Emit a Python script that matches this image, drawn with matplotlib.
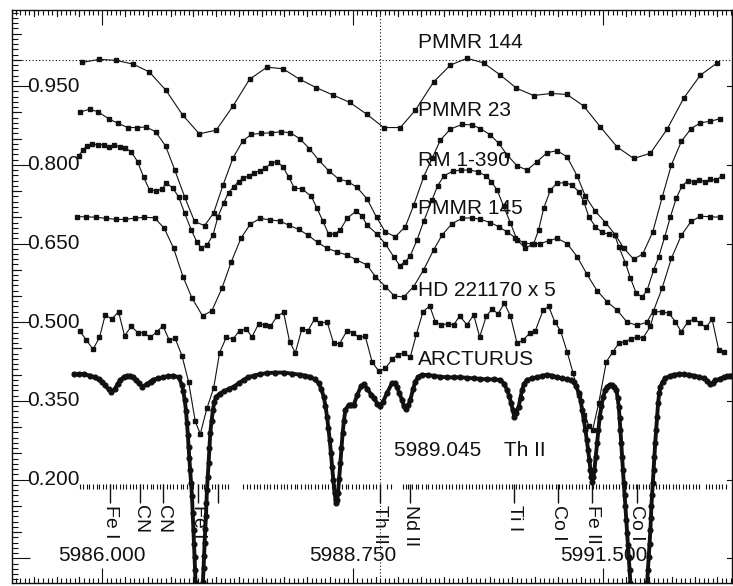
import matplotlib
matplotlib.use("Agg")
import matplotlib.pyplot as plt
import matplotlib.transforms as mtransforms
from matplotlib.ticker import FixedLocator, MultipleLocator
import numpy as np

plt.rcParams['font.family'] = ['Liberation Sans', 'DejaVu Sans']

# ---- spectra (wavelength, normalised flux + offset) ----
PMMR144 = [(5985.777, 0.995), (5985.970, 1.001), (5986.150, 0.999), (5986.337, 0.992),
           (5986.516, 0.977), (5986.699, 0.942), (5986.882, 0.895), (5987.065, 0.859),
           (5987.251, 0.866), (5987.435, 0.912), (5987.617, 0.963), (5987.808, 0.986),
           (5987.984, 0.983), (5988.166, 0.963), (5988.349, 0.947), (5988.532, 0.933),
           (5988.715, 0.919), (5988.906, 0.896), (5989.088, 0.871), (5989.271, 0.871),
           (5989.436, 0.904), (5989.637, 0.958), (5989.820, 0.990), (5990.003, 1.003),
           (5990.186, 0.994), (5990.369, 0.971), (5990.545, 0.946), (5990.734, 0.932),
           (5990.925, 0.936), (5991.101, 0.934), (5991.283, 0.912), (5991.467, 0.872),
           (5991.650, 0.834), (5991.832, 0.812), (5992.015, 0.822), (5992.199, 0.868),
           (5992.381, 0.927), (5992.564, 0.971), (5992.748, 0.994)]

PMMR23 = [(5985.751, 0.900), (5985.861, 0.906), (5985.953, 0.901), (5986.069, 0.888),
          (5986.172, 0.879), (5986.282, 0.871), (5986.380, 0.871), (5986.483, 0.872),
          (5986.585, 0.863), (5986.695, 0.836), (5986.794, 0.791), (5986.904, 0.739),
          (5987.013, 0.692), (5987.123, 0.684), (5987.222, 0.708), (5987.325, 0.761),
          (5987.435, 0.813), (5987.540, 0.845), (5987.636, 0.858), (5987.745, 0.860),
          (5987.855, 0.861), (5987.965, 0.863), (5988.064, 0.861), (5988.166, 0.850),
          (5988.272, 0.831), (5988.375, 0.809), (5988.484, 0.789), (5988.594, 0.773),
          (5988.697, 0.768), (5988.796, 0.757), (5988.906, 0.735), (5989.010, 0.700),
          (5989.107, 0.672), (5989.216, 0.663), (5989.326, 0.682), (5989.418, 0.723),
          (5989.527, 0.777), (5989.619, 0.812), (5989.710, 0.847), (5989.820, 0.868),
          (5989.949, 0.877), (5990.058, 0.876), (5990.149, 0.869), (5990.259, 0.857),
          (5990.350, 0.841), (5990.442, 0.819), (5990.552, 0.798), (5990.662, 0.790),
          (5990.772, 0.806), (5990.881, 0.823), (5990.991, 0.827), (5991.101, 0.815),
          (5991.211, 0.779), (5991.302, 0.740), (5991.412, 0.711), (5991.522, 0.690),
          (5991.632, 0.666), (5991.723, 0.641), (5991.832, 0.620), (5991.931, 0.630),
          (5992.041, 0.672), (5992.144, 0.738), (5992.246, 0.800), (5992.356, 0.845),
          (5992.462, 0.869), (5992.564, 0.880), (5992.674, 0.883), (5992.784, 0.888)]

RM1390 = [(5985.740, 0.817), (5985.788, 0.828), (5985.832, 0.836), (5985.887, 0.840),
          (5985.953, 0.838), (5986.015, 0.838), (5986.069, 0.834), (5986.132, 0.838),
          (5986.190, 0.834), (5986.252, 0.832), (5986.318, 0.825), (5986.388, 0.806),
          (5986.453, 0.777), (5986.519, 0.752), (5986.585, 0.751), (5986.655, 0.753),
          (5986.703, 0.766), (5986.776, 0.755), (5986.838, 0.739), (5986.904, 0.708),
          (5986.977, 0.676), (5987.040, 0.652), (5987.087, 0.642), (5987.149, 0.647),
          (5987.215, 0.666), (5987.270, 0.701), (5987.332, 0.727), (5987.386, 0.747),
          (5987.441, 0.758), (5987.496, 0.768), (5987.545, 0.774), (5987.606, 0.779),
          (5987.661, 0.784), (5987.727, 0.789), (5987.789, 0.793), (5987.852, 0.803),
          (5987.918, 0.806), (5987.984, 0.796), (5988.045, 0.777), (5988.108, 0.756),
          (5988.192, 0.754), (5988.294, 0.740), (5988.357, 0.717), (5988.423, 0.692),
          (5988.484, 0.668), (5988.550, 0.668), (5988.613, 0.676), (5988.686, 0.698),
          (5988.788, 0.712), (5988.851, 0.702), (5988.906, 0.685), (5989.015, 0.668),
          (5989.107, 0.649), (5989.198, 0.625), (5989.264, 0.608), (5989.326, 0.615),
          (5989.381, 0.627), (5989.455, 0.657), (5989.527, 0.692), (5989.619, 0.733),
          (5989.680, 0.760), (5989.750, 0.779), (5989.850, 0.788), (5989.940, 0.790),
          (5990.030, 0.790), (5990.120, 0.787), (5990.210, 0.779), (5990.270, 0.768),
          (5990.333, 0.752), (5990.405, 0.721), (5990.479, 0.689), (5990.552, 0.657),
          (5990.643, 0.641), (5990.735, 0.650), (5990.789, 0.676), (5990.844, 0.717),
          (5990.918, 0.752), (5990.991, 0.765), (5991.083, 0.766), (5991.156, 0.761),
          (5991.229, 0.749), (5991.284, 0.730), (5991.339, 0.701), (5991.412, 0.682),
          (5991.485, 0.671), (5991.558, 0.668), (5991.624, 0.666), (5991.668, 0.644),
          (5991.741, 0.613), (5991.796, 0.584), (5991.858, 0.556), (5991.924, 0.548),
          (5991.979, 0.561), (5992.052, 0.600), (5992.107, 0.625), (5992.173, 0.663),
          (5992.235, 0.701), (5992.298, 0.736), (5992.363, 0.760), (5992.429, 0.770),
          (5992.491, 0.768), (5992.553, 0.771), (5992.619, 0.768), (5992.674, 0.772),
          (5992.736, 0.771), (5992.802, 0.779)]

PMMR145 = [(5985.722, 0.701), (5985.824, 0.701), (5985.931, 0.700), (5986.044, 0.698),
           (5986.150, 0.696), (5986.245, 0.696), (5986.355, 0.698), (5986.461, 0.700),
           (5986.574, 0.699), (5986.681, 0.679), (5986.783, 0.641), (5986.886, 0.587),
           (5986.985, 0.546), (5987.101, 0.512), (5987.204, 0.522), (5987.314, 0.565),
           (5987.416, 0.615), (5987.522, 0.660), (5987.625, 0.687), (5987.734, 0.698),
           (5987.837, 0.695), (5987.946, 0.693), (5988.045, 0.685), (5988.155, 0.677),
           (5988.258, 0.666), (5988.363, 0.652), (5988.467, 0.641), (5988.576, 0.634),
           (5988.686, 0.628), (5988.788, 0.619), (5988.906, 0.609), (5988.997, 0.587),
           (5989.107, 0.568), (5989.205, 0.550), (5989.308, 0.548), (5989.418, 0.568),
           (5989.527, 0.600), (5989.637, 0.638), (5989.729, 0.666), (5989.839, 0.688),
           (5989.949, 0.698), (5990.058, 0.699), (5990.149, 0.696), (5990.259, 0.690),
           (5990.350, 0.682), (5990.442, 0.672), (5990.534, 0.661), (5990.625, 0.651),
           (5990.717, 0.649), (5990.808, 0.650), (5990.899, 0.655), (5990.991, 0.660),
           (5991.101, 0.650), (5991.211, 0.625), (5991.320, 0.591), (5991.430, 0.560),
           (5991.540, 0.539), (5991.650, 0.523), (5991.760, 0.500), (5991.870, 0.494),
           (5991.975, 0.500), (5992.050, 0.522), (5992.144, 0.565), (5992.246, 0.622),
           (5992.356, 0.666), (5992.462, 0.692), (5992.564, 0.702), (5992.674, 0.701),
           (5992.784, 0.700)]

HD221170 = [(5985.751, 0.483), (5985.824, 0.467), (5985.898, 0.448), (5985.970, 0.471),
            (5986.033, 0.514), (5986.106, 0.506), (5986.179, 0.520), (5986.245, 0.474),
            (5986.318, 0.492), (5986.392, 0.480), (5986.453, 0.480), (5986.527, 0.471),
            (5986.600, 0.482), (5986.666, 0.493), (5986.735, 0.466), (5986.801, 0.469),
            (5986.875, 0.436), (5986.947, 0.387), (5987.021, 0.311), (5987.076, 0.287),
            (5987.149, 0.336), (5987.222, 0.374), (5987.288, 0.442), (5987.361, 0.471),
            (5987.435, 0.468), (5987.507, 0.484), (5987.581, 0.487), (5987.643, 0.472),
            (5987.716, 0.497), (5987.789, 0.495), (5987.844, 0.492), (5987.918, 0.511),
            (5987.990, 0.519), (5988.056, 0.463), (5988.119, 0.442), (5988.192, 0.488),
            (5988.258, 0.484), (5988.330, 0.506), (5988.393, 0.498), (5988.467, 0.501),
            (5988.539, 0.460), (5988.605, 0.459), (5988.686, 0.484), (5988.752, 0.480),
            (5988.814, 0.471), (5988.887, 0.473), (5988.960, 0.425), (5989.033, 0.407),
            (5989.107, 0.412), (5989.180, 0.429), (5989.242, 0.438), (5989.308, 0.441),
            (5989.381, 0.434), (5989.447, 0.477), (5989.520, 0.520), (5989.593, 0.531),
            (5989.655, 0.501), (5989.721, 0.495), (5989.791, 0.497), (5989.857, 0.495),
            (5989.922, 0.512), (5990.003, 0.495), (5990.076, 0.514), (5990.142, 0.472),
            (5990.215, 0.512), (5990.278, 0.525), (5990.343, 0.516), (5990.413, 0.536),
            (5990.479, 0.512), (5990.552, 0.460), (5990.618, 0.466), (5990.691, 0.479),
            (5990.753, 0.484), (5990.838, 0.523), (5990.899, 0.530), (5990.965, 0.501),
            (5991.028, 0.484), (5991.101, 0.444), (5991.167, 0.403), (5991.229, 0.361),
            (5991.291, 0.323), (5991.340, 0.303), (5991.382, 0.295), (5991.448, 0.346),
            (5991.532, 0.425), (5991.606, 0.444), (5991.668, 0.460), (5991.734, 0.463),
            (5991.800, 0.468), (5991.870, 0.472), (5991.934, 0.470), (5992.015, 0.492),
            (5992.059, 0.520), (5992.144, 0.520), (5992.217, 0.517), (5992.290, 0.501),
            (5992.352, 0.482), (5992.429, 0.501), (5992.491, 0.506), (5992.564, 0.498),
            (5992.626, 0.490), (5992.692, 0.506), (5992.765, 0.447), (5992.828, 0.443)]

ARCTURUS = [(5985.69, 0.401), (5985.74, 0.401), (5985.80, 0.401), (5985.87, 0.398),
            (5985.92, 0.395), (5985.96, 0.391), (5986.00, 0.386), (5986.03, 0.380),
            (5986.07, 0.372), (5986.10, 0.367), (5986.14, 0.373), (5986.17, 0.383),
            (5986.20, 0.390), (5986.24, 0.396), (5986.27, 0.398), (5986.31, 0.398),
            (5986.34, 0.395), (5986.37, 0.390), (5986.40, 0.384),
            (5986.44, 0.377), (5986.49, 0.382), (5986.53, 0.387), (5986.56, 0.390),
            (5986.61, 0.393), (5986.67, 0.395), (5986.72, 0.397),
            (5986.78, 0.398), (5986.84, 0.395), (5986.875, 0.380), (5986.89, 0.368),
            (5986.905, 0.352), (5986.92, 0.330), (5986.93, 0.307), (5986.94, 0.285),
            (5986.947, 0.263), (5986.956, 0.241), (5986.966, 0.219), (5986.975, 0.193),
            (5986.985, 0.168), (5986.993, 0.136), (5987.002, 0.104), (5987.008, 0.078),
            (5987.013, 0.053), (5987.019, 0.028), (5987.024, 0.003), (5987.035, -0.02),
            (5987.06, -0.04), (5987.09, -0.03), (5987.105, 0.005), (5987.112, 0.031),
            (5987.118, 0.055), (5987.123, 0.079), (5987.130, 0.105), (5987.138, 0.130),
            (5987.143, 0.155), (5987.149, 0.180), (5987.158, 0.205), (5987.167, 0.231),
            (5987.176, 0.260), (5987.186, 0.289), (5987.200, 0.312), (5987.215, 0.333),
            (5987.230, 0.348), (5987.251, 0.358), (5987.290, 0.364), (5987.332, 0.368),
            (5987.390, 0.373), (5987.441, 0.377), (5987.500, 0.384), (5987.551, 0.390),
            (5987.600, 0.395), (5987.661, 0.398), (5987.730, 0.401), (5987.808, 0.403),
            (5987.900, 0.404), (5987.990, 0.404), (5988.080, 0.402), (5988.174, 0.400),
            (5988.230, 0.398), (5988.283, 0.396), (5988.330, 0.391), (5988.375, 0.384),
            (5988.405, 0.372),
            (5988.430, 0.358), (5988.450, 0.340), (5988.467, 0.320), (5988.482, 0.298),
            (5988.496, 0.276), (5988.510, 0.250), (5988.522, 0.225), (5988.536, 0.200),
            (5988.550, 0.174), (5988.560, 0.162), (5988.569, 0.155), (5988.578, 0.162),
            (5988.587, 0.174), (5988.600, 0.202), (5988.613, 0.231), (5988.625, 0.260),
            (5988.638, 0.289), (5988.652, 0.312), (5988.668, 0.333), (5988.704, 0.342),
            (5988.730, 0.343), (5988.759, 0.342), (5988.800, 0.362), (5988.840, 0.378),
            (5988.870, 0.382), (5988.910, 0.373), (5988.950, 0.362), (5988.980, 0.355),
            (5989.020, 0.345), (5989.050, 0.340), (5989.080, 0.348), (5989.125, 0.365),
            (5989.180, 0.384), (5989.210, 0.384), (5989.234, 0.377), (5989.260, 0.365),
            (5989.289, 0.352), (5989.310, 0.340), (5989.333, 0.334), (5989.360, 0.342),
            (5989.381, 0.352), (5989.410, 0.372), (5989.436, 0.387), (5989.470, 0.396),
            (5989.509, 0.400), (5989.570, 0.399), (5989.637, 0.398), (5989.710, 0.396),
            (5989.784, 0.395), (5989.860, 0.395), (5989.930, 0.395), (5990.000, 0.394),
            (5990.076, 0.393), (5990.150, 0.392), (5990.222, 0.391), (5990.300, 0.391),
            (5990.369, 0.390), (5990.410, 0.383),
            (5990.442, 0.371), (5990.465, 0.360), (5990.486, 0.346), (5990.505, 0.332),
            (5990.523, 0.320), (5990.545, 0.327), (5990.570, 0.339), (5990.590, 0.356),
            (5990.607, 0.371), (5990.630, 0.383), (5990.662, 0.390), (5990.720, 0.393),
            (5990.772, 0.395), (5990.830, 0.398), (5990.881, 0.400), (5990.940, 0.398),
            (5990.991, 0.395), (5991.050, 0.393), (5991.101, 0.391), (5991.140, 0.389),
            (5991.174, 0.387), (5991.200, 0.378),
            (5991.229, 0.365), (5991.250, 0.350), (5991.266, 0.333), (5991.285, 0.314),
            (5991.302, 0.295), (5991.317, 0.276), (5991.331, 0.257), (5991.345, 0.238),
            (5991.357, 0.219), (5991.367, 0.205), (5991.375, 0.196), (5991.388, 0.205),
            (5991.401, 0.219), (5991.415, 0.244), (5991.430, 0.269), (5991.445, 0.295),
            (5991.459, 0.320), (5991.478, 0.340), (5991.496, 0.358), (5991.520, 0.370),
            (5991.540, 0.377), (5991.570, 0.381), (5991.595, 0.380), (5991.620, 0.377),
            (5991.642, 0.371), (5991.655, 0.356), (5991.668, 0.339), (5991.677, 0.317),
            (5991.686, 0.295), (5991.695, 0.270), (5991.704, 0.244), (5991.713, 0.218),
            (5991.723, 0.193), (5991.732, 0.171), (5991.741, 0.149), (5991.750, 0.124),
            (5991.760, 0.098), (5991.769, 0.075), (5991.778, 0.053), (5991.787, 0.028),
            (5991.796, 0.003), (5991.820, -0.03), (5991.890, -0.05), (5991.960, -0.03),
            (5991.979, 0.003), (5991.988, 0.028), (5991.997, 0.053), (5992.006, 0.078),
            (5992.015, 0.104), (5992.020, 0.126), (5992.026, 0.149), (5992.034, 0.171),
            (5992.041, 0.193), (5992.050, 0.218), (5992.059, 0.244), (5992.068, 0.270),
            (5992.078, 0.295), (5992.089, 0.320), (5992.100, 0.346), (5992.112, 0.365),
            (5992.125, 0.377), (5992.150, 0.387), (5992.180, 0.393), (5992.225, 0.397),
            (5992.271, 0.400), (5992.330, 0.401), (5992.381, 0.401), (5992.440, 0.400),
            (5992.491, 0.398), (5992.550, 0.396), (5992.601, 0.393), (5992.640, 0.388),
            (5992.667, 0.382), (5992.700, 0.385), (5992.729, 0.389), (5992.775, 0.392),
            (5992.820, 0.395), (5992.860, 0.397), (5992.893, 0.398)]

# curve labels: (text, wavelength of left edge, y)
curve_labels = [("PMMR 144", 5989.46, 1.034), ("PMMR 23", 5989.46, 0.904),
                ("RM 1-390", 5989.46, 0.809), ("PMMR 145", 5989.46, 0.717),
                ("HD 221170 x 5", 5989.46, 0.561), ("ARCTURUS", 5989.46, 0.428),
                ("5989.045    Th II", 5989.20, 0.255)]

# identified lines
id_wave = [5986.088, 5986.417, 5986.670, 5987.054, 5987.273, 5989.045, 5989.381,
           5990.523, 5991.006, 5991.379, 5991.867]
id_name = ["Fe I", "CN", "CN", "Fe I", "", "Th II", "Nd II", "Ti I", "Co I", "Fe II", "Co I"]

# line list marks
line_list = [5985.76, 5985.79, 5985.83, 5985.86, 5985.90, 5985.94, 5985.97, 5986.01, 5986.04,
             5986.09, 5986.12, 5986.15, 5986.19, 5986.23, 5986.26, 5986.30, 5986.34, 5986.37,
             5986.42, 5986.45, 5986.49, 5986.53, 5986.56, 5986.60, 5986.63, 5986.67, 5986.71,
             5986.74, 5986.78, 5986.82, 5986.86, 5986.89, 5986.93, 5986.97, 5987.00, 5987.05,
             5987.09, 5987.12, 5987.16, 5987.20, 5987.24, 5987.27, 5987.31, 5987.35, 5987.38,
             5987.55, 5987.59, 5987.62, 5987.66, 5987.70, 5987.73, 5987.77, 5987.81,
             5987.84, 5987.88, 5987.92, 5987.96, 5987.99, 5988.03, 5988.07, 5988.11, 5988.14,
             5988.18, 5988.22, 5988.26, 5988.29, 5988.33, 5988.37, 5988.41, 5988.44, 5988.48,
             5988.52, 5988.55, 5988.59, 5988.63, 5988.67, 5988.70, 5988.74, 5988.78, 5988.82,
             5988.86, 5988.89, 5988.93, 5988.97, 5989.00, 5989.05, 5989.13, 5989.17,
             5989.30, 5989.33, 5989.36, 5989.40, 5989.44, 5989.47, 5989.51, 5989.55, 5989.58,
             5989.62, 5989.66, 5989.69, 5989.73, 5989.77, 5989.80, 5989.84, 5989.88, 5989.91,
             5989.95, 5989.99, 5990.02, 5990.06, 5990.10, 5990.13, 5990.17, 5990.21, 5990.24,
             5990.28, 5990.32, 5990.35, 5990.39, 5990.43, 5990.46, 5990.50, 5990.54, 5990.57,
             5990.61, 5990.65, 5990.68, 5990.72, 5990.76, 5990.79, 5990.83, 5990.87, 5990.90,
             5990.94, 5990.98, 5991.01, 5991.05, 5991.09, 5991.12, 5991.16, 5991.20, 5991.23,
             5991.27, 5991.31, 5991.34, 5991.38, 5991.42, 5991.45, 5991.49, 5991.53, 5991.56,
             5991.60, 5991.64, 5991.67, 5991.71, 5991.75, 5991.78, 5991.82, 5991.86, 5991.89,
             5991.93, 5991.97, 5992.00, 5992.04, 5992.08, 5992.11, 5992.15, 5992.19, 5992.22,
             5992.26, 5992.30, 5992.33, 5992.37, 5992.41, 5992.44, 5992.48, 5992.52, 5992.55,
             5992.62, 5992.66, 5992.69, 5992.73, 5992.77, 5992.80, 5992.84]

x_labels = [5986.0, 5988.75, 5991.5]
y_major = [0.05, 0.2, 0.35, 0.5, 0.65, 0.8, 0.95]
y_labels = [0.95, 0.80, 0.65, 0.50, 0.35, 0.20]

XMIN, XMAX = 5985.01, 5992.905
YMIN, YMAX = 0.003, 1.095
AX_W, AX_H = 719.5, 573.0

fig = plt.figure(figsize=(7.33, 5.86), dpi=100)
ax = fig.add_axes([12 / 733, 3 / 586, AX_W / 733, AX_H / 586])
ax.set_xlim(XMIN, XMAX)
ax.set_ylim(YMIN, YMAX)

ink = '#111111'
for s in ax.spines.values():
    s.set_linewidth(1.0)
    s.set_color(ink)

# thin spectra
for data in (PMMR144, PMMR23, RM1390, PMMR145, HD221170):
    w, f = zip(*data)
    ax.plot(w, f, '-', color=ink, lw=0.8, marker='s', ms=2.6, mfc=ink, mec=ink)

# Arcturus: dense dotted spectrum
w, f = zip(*ARCTURUS)
ax.plot(w, f, '-', color=ink, lw=2.8, marker='o', ms=3.4, mfc=ink, mec=ink)

# reference lines
ax.axhline(1.0, color=ink, lw=0.8, ls=(0, (1, 2)))
ax.axvline(5989.045, color=ink, lw=0.8, ls=(0, (1, 2)))

for txt, x, y in curve_labels:
    ax.text(x, y, txt, fontsize=15, ha='left', va='center', color=ink)

# line list row and identifications
ax.vlines(line_list, 0.182, 0.191, color=ink, lw=0.8)
ax.vlines(id_wave, 0.155, 0.191, color=ink, lw=1.0)
for w0, name in zip(id_wave, id_name):
    if name:
        ax.text(w0, 0.151, name, rotation=270, fontsize=14, ha='center', va='top', color=ink)

# ticks
ax.xaxis.set_major_locator(FixedLocator(x_labels))
ax.xaxis.set_minor_locator(MultipleLocator(0.05))
ax.yaxis.set_major_locator(FixedLocator(y_major))
ax.yaxis.set_minor_locator(MultipleLocator(0.01))
ax.tick_params(axis='both', which='both', direction='in', labelbottom=False,
               labelleft=False, top=True, right=False, color=ink, width=0.8)
ax.tick_params(axis='x', which='major', length=11)
ax.tick_params(axis='x', which='minor', length=3.5)
ax.tick_params(axis='y', which='major', length=13)
ax.tick_params(axis='y', which='minor', length=4)

# medium ticks every 0.25 A and every 0.05 in y, short major ticks on the right
tx = mtransforms.blended_transform_factory(ax.transData, ax.transAxes)
ty = mtransforms.blended_transform_factory(ax.transAxes, ax.transData)
for xm in np.arange(5985.25, XMAX, 0.25):
    if min(abs(xm - v) for v in x_labels) < 1e-6:
        continue
    ax.plot([xm, xm], [0, 6.5 / AX_H], transform=tx, color=ink, lw=0.8, clip_on=False)
    ax.plot([xm, xm], [1 - 6 / AX_H, 1], transform=tx, color=ink, lw=0.8, clip_on=False)
for ym in np.arange(0.10, YMAX, 0.05):
    if min(abs(ym - v) for v in y_major) < 1e-6:
        continue
    ax.plot([0, 9 / AX_W], [ym, ym], transform=ty, color=ink, lw=0.8, clip_on=False)
for ym in y_major:
    ax.plot([1 - 5 / AX_W, 1], [ym, ym], transform=ty, color=ink, lw=0.8, clip_on=False)

# tick labels drawn inside the frame
for yv in y_labels:
    ax.text(15 / AX_W, yv, f"{yv:.3f}", transform=ty, fontsize=15, ha='left', va='center', color=ink)
for xv in x_labels:
    ax.text(xv, 0.055, f"{xv:.3f}", fontsize=15, ha='center', va='center', color=ink)

fig.savefig('out.png', dpi=100)
